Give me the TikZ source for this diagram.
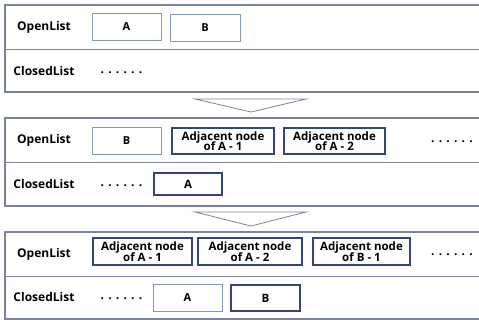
\documentclass[tikz,border=0pt]{standalone}
\usepackage{fontspec}
\setmainfont{Open Sans}
\definecolor{panelline}{RGB}{122,132,162}
\definecolor{thinbox}{RGB}{132,150,190}
\definecolor{thickbox}{RGB}{52,68,124}
\newcommand{\ellipsisrow}{.\kern4.2pt.\kern4.2pt.\kern4.2pt.\kern4.2pt.\kern4.2pt.}
\newcommand{\tightlines}{\lineskiplimit=-20pt\relax\lineskip=0pt\relax}
\begin{document}
\begin{tikzpicture}[x=1pt,y=-1pt,
  panel/.style={draw=panelline,line width=1.1pt},
  divider/.style={draw=panelline,line width=0.9pt},
  rowlabel/.style={font=\bfseries\fontsize{12}{13}\selectfont,anchor=center,inner sep=0pt},
  thinitem/.style={draw=thinbox,line width=0.8pt,fill=white,font=\bfseries\fontsize{11}{12}\selectfont,inner sep=0pt,align=center},
  thickitem/.style={draw=thickbox,line width=2.2pt,fill=white,
    font=\bfseries\fontsize{11.5}{10.6}\selectfont\tightlines,
    inner sep=0pt,align=center},
  ellip/.style={font=\bfseries\fontsize{12}{13}\selectfont,anchor=base,inner sep=0pt},
  stepmark/.style={draw=panelline,line width=0.8pt}
]
\useasboundingbox (0,0) rectangle (479,320);

% ---- panel frames ----
\foreach \t/\m/\b in {5/49/92, 118/162/206, 232/276/319}{
  \draw[panel] (479,\t) -- (5,\t) -- (5,\b) -- (479,\b);
  \draw[divider] (5,\m) -- (479,\m);
}

% ---- arrows between panels ----
\coordinate (t1a) at (195,99);  \coordinate (t1b) at (306,99);  \coordinate (t1c) at (251,112);
\draw[stepmark] (t1a) -- (t1b) -- (t1c) -- cycle;
\coordinate (t2a) at (195,212); \coordinate (t2b) at (306,212); \coordinate (t2c) at (251,226);
\draw[stepmark] (t2a) -- (t2b) -- (t2c) -- cycle;

% ---- panel 1 ----
\node[rowlabel] (o1) at (44,27) {OpenList};
\node[rowlabel] (c1) at (44,71) {ClosedList};
\node[thinitem,minimum width=69pt,minimum height=27pt] (p1a) at (126.5,26.5) {A};
\node[thinitem,minimum width=70pt,minimum height=27pt] (p1b) at (205,27.5) {B};
\node[ellip] (p1d) at (121.5,73.5) {\ellipsisrow};

% ---- panel 2 ----
\node[rowlabel] (o2) at (44,140) {OpenList};
\node[rowlabel] (c2) at (44,184) {ClosedList};
\node[thinitem,minimum width=69pt,minimum height=27pt] (p2b) at (126.5,140.5) {B};
\node[thickitem,minimum width=102pt,minimum height=26pt] (p2a1) at (223,141) {Adjacent node\\of A - 1};
\node[thickitem,minimum width=101pt,minimum height=26pt] (p2a2) at (334.5,141) {Adjacent node\\of A - 2};
\node[ellip] (p2d) at (452,142.5) {\ellipsisrow};
\node[ellip] (p2c) at (121.5,186.5) {\ellipsisrow};
\node[thickitem,minimum width=68pt,minimum height=22pt] (p2ca) at (188,184) {A};

% ---- panel 3 ----
\node[rowlabel] (o3) at (44,254) {OpenList};
\node[rowlabel] (c3) at (44,297) {ClosedList};
\node[thickitem,minimum width=99pt,minimum height=27pt] (p3a1) at (142.5,251.5) {Adjacent node\\of A - 1};
\node[thickitem,minimum width=104pt,minimum height=27pt] (p3a2) at (250,251.5) {Adjacent node\\of A - 2};
\node[thickitem,minimum width=97pt,minimum height=27pt] (p3b1) at (361.5,251.5) {Adjacent node\\of B - 1};
\node[ellip] (p3d) at (452,255.5) {\ellipsisrow};
\node[ellip] (p3c) at (121.5,299.5) {\ellipsisrow};
\node[thinitem,minimum width=69pt,minimum height=27pt] (p3ca) at (187.5,297.5) {A};
\node[thickitem,minimum width=69pt,minimum height=26pt] (p3cb) at (265.5,298) {B};
\end{tikzpicture}
\end{document}
